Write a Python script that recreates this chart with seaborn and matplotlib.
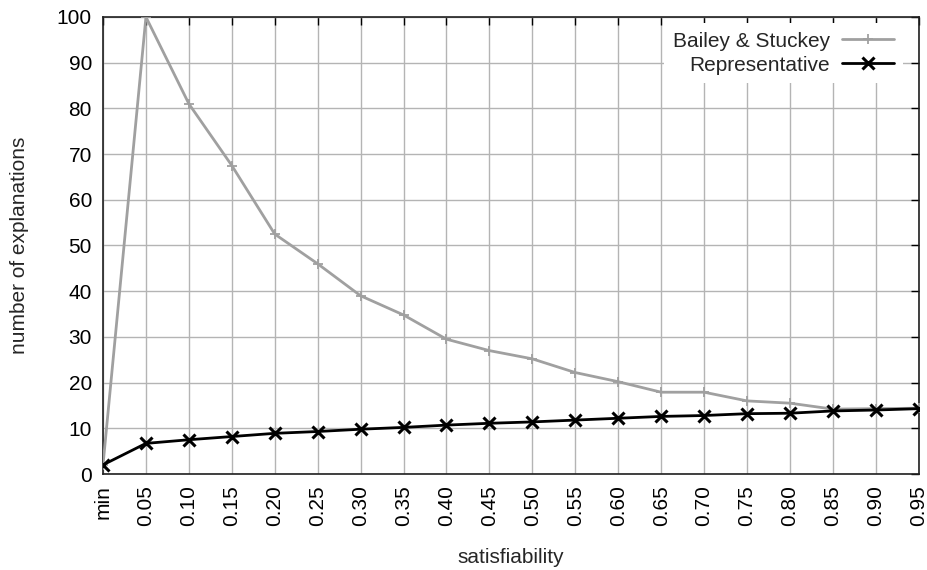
import matplotlib
matplotlib.use("Agg")
import matplotlib.pyplot as plt
import pandas as pd
import seaborn as sns

# values
satisfiability = ["min", "0.05", "0.10", "0.15", "0.20", "0.25", "0.30", "0.35", "0.40", "0.45",
                  "0.50", "0.55", "0.60", "0.65", "0.70", "0.75", "0.80", "0.85", "0.90", "0.95"]
bailey_stuckey = [2.0, 100.0, 81.0, 67.5, 52.5, 46.0, 39.0, 34.8, 29.5, 27.0,
                  25.2, 22.2, 20.2, 17.9, 17.9, 16.0, 15.5, 14.2, 14.3, 14.4]
representative = [2.0, 6.7, 7.5, 8.2, 8.9, 9.3, 9.8, 10.2, 10.7, 11.1,
                  11.4, 11.8, 12.2, 12.6, 12.8, 13.2, 13.3, 13.8, 14.0, 14.3]

df = pd.DataFrame({"satisfiability": satisfiability * 2,
                   "explanations": bailey_stuckey + representative,
                   "method": ["Bailey & Stuckey"] * len(satisfiability) + ["Representative"] * len(satisfiability)})

sns.set_style("white")
plt.rcParams["font.family"] = ["Liberation Sans", "DejaVu Sans"]

fig = plt.figure(figsize=(9.28, 5.70), dpi=100)
ax = fig.add_axes([0.111, 0.1684, 0.879, 0.8018])

ax.grid(True, color="#b4b4b4", linewidth=1.0, zorder=0)
ax.set_axisbelow(True)

sns.lineplot(data=df, x="satisfiability", y="explanations", hue="method", style="method",
             palette={"Bailey & Stuckey": "#a0a0a0", "Representative": "#000000"},
             markers={"Bailey & Stuckey": "+", "Representative": "x"},
             dashes=False, linewidth=2, markersize=8, markeredgewidth=2.2, ax=ax, zorder=3)


def fix_marker(line):
    line.set_markeredgecolor(line.get_color())
    if line.get_marker() == "+":
        line.set_markersize(7)
        line.set_markeredgewidth(1.3)
    else:
        line.set_markersize(8)
        line.set_markeredgewidth(2.2)


for line in ax.lines:
    fix_marker(line)

ax.set_xlim(0, len(satisfiability) - 1)
ax.set_ylim(0, 100)
ax.set_yticks(range(0, 101, 10))
ax.tick_params(axis="x", rotation=90)
ax.tick_params(axis="both", direction="in", length=6, width=1, top=True, right=True,
               labelsize=15, colors="#000000", pad=8)
for s in ax.spines.values():
    s.set_color("#202020")
    s.set_linewidth(1.2)

ax.set_xlabel("satisfiability", fontsize=15, labelpad=16)
ax.set_ylabel("number of explanations", fontsize=15, labelpad=20)

handles, labels = ax.get_legend_handles_labels()
leg = ax.legend(handles, labels, loc="upper right", bbox_to_anchor=(0.988, 1.0),
                markerfirst=False, frameon=True,
                fontsize=15, handlelength=2.5, handletextpad=0.6, borderaxespad=0.3,
                borderpad=0.4, labelspacing=0.25,
                fancybox=False, edgecolor="white", framealpha=1.0)
leg.get_frame().set_linewidth(0)
for h in leg.get_lines():
    fix_marker(h)

fig.savefig("out.png", dpi=100)
